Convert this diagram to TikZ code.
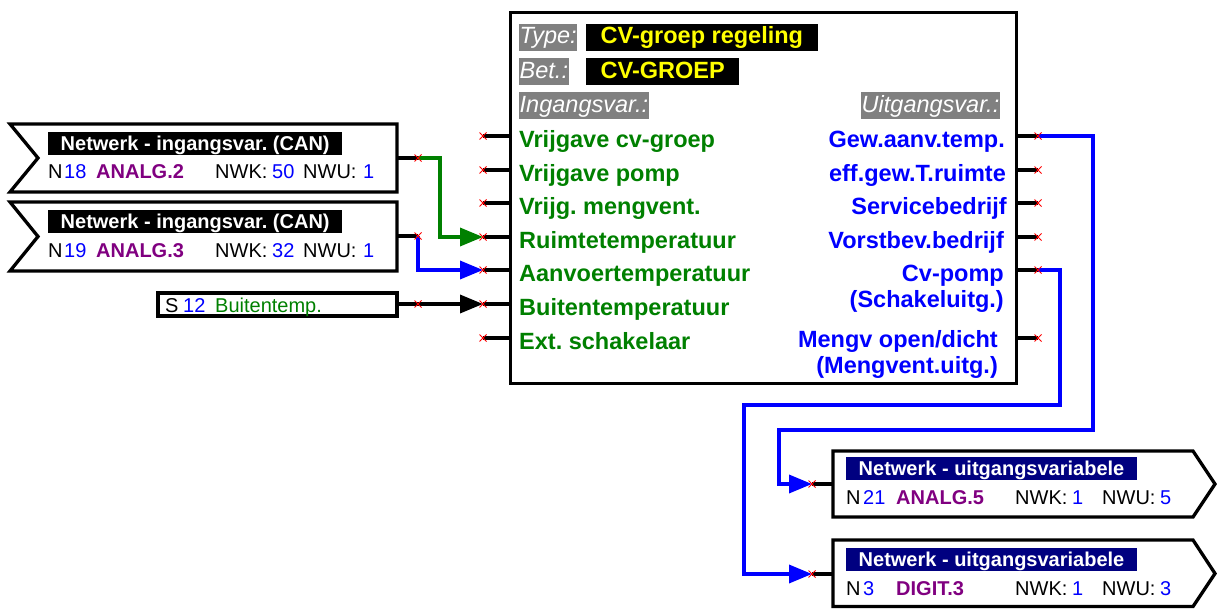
\documentclass[tikz,border=0pt]{standalone}
\usepackage{fontspec}
\setmainfont{Liberation Sans}
\usetikzlibrary{arrows.meta}
\definecolor{cgreen}{HTML}{008000}
\definecolor{cblue}{HTML}{0000FF}
\definecolor{cpurple}{HTML}{800080}
\definecolor{cnavy}{HTML}{000080}
\definecolor{cgray}{HTML}{808080}
\definecolor{cyellow}{HTML}{FFFF00}
\newcommand{\bigfont}{\fontsize{23.5}{28}\selectfont}
\newcommand{\smallfont}{\fontsize{20}{24}\selectfont}
\frenchspacing
\begin{document}
\begin{tikzpicture}[x=1pt,y=-1pt,
  frame/.style={draw=black, line width=3.3pt, line join=miter},
  stub/.style={draw=black, line width=3.5pt},
  wire/.style={line width=3.5pt, line join=miter, -{Triangle[length=23pt,width=18pt]}},
  hdr/.style={fill=cgray, text=white, font=\bigfont\itshape, inner xsep=0.5pt, inner ysep=0pt, text height=20pt, text depth=7pt},
  tag/.style={fill=black, text=cyellow, font=\bigfont\bfseries, inner xsep=14.5pt, inner ysep=0pt, text height=20pt, text depth=7pt, anchor=base west},
  ilbl/.style={text=cgreen, font=\bigfont\bfseries, inner sep=0pt, anchor=base west},
  olbl/.style={text=cblue, font=\bigfont\bfseries, inner sep=0pt, anchor=base east},
  bar/.style={text=white, font=\smallfont\bfseries, inner xsep=12.5pt, inner ysep=0pt, text height=18pt, text depth=5pt, anchor=base west},
  sm/.style={font=\smallfont, inner sep=0pt, anchor=base west},
  smb/.style={font=\smallfont\bfseries, text=cpurple, inner sep=0pt, anchor=base west},
  xmark/.pic={\draw[red, line width=0.9pt] (-3.5,-3.5) -- (3.5,3.5) (-3.5,3.5) -- (3.5,-3.5);}
]
\useasboundingbox (0,0) rectangle (1217,610);

% ---------- function block ----------
\node[frame, minimum width=506pt, minimum height=371pt, inner sep=0pt, anchor=north west] (blk) at (509,11) {};

\node[hdr, anchor=base west] (hType) at (519,44) {Type:};
\node[tag] (vType) at (586,44) {CV-groep regeling};
\node[hdr, anchor=base west] (hBet) at (519,78) {Bet.:};
\node[tag] (vBet) at (586,78) {CV-GROEP};
\node[hdr, anchor=base west] (hIn) at (519,112) {Ingangsvar.:};
\node[hdr, anchor=base east] (hOut) at (1000,112) {Uitgangsvar.:};

% input pins
\foreach \k/\y in {1/136,2/170,3/203,4/237,5/270,6/304,7/338}{
  \coordinate (in\k) at (483,\y);
  \draw[stub] (in\k) -- (in\k -| blk.west);
}
\node[ilbl] (l1) at (519,147) {Vrijgave cv-groep};
\node[ilbl] (l2) at (519,181) {Vrijgave pomp};
\node[ilbl] (l3) at (519,214) {Vrijg. mengvent.};
\node[ilbl] (l4) at (519,248) {Ruimtetemperatuur};
\node[ilbl] (l5) at (519,281) {Aanvoertemperatuur};
\node[ilbl] (l6) at (519,315) {Buitentemperatuur};
\node[ilbl] (l7) at (519,349) {Ext. schakelaar};

% output pins
\foreach \k/\y in {1/136,2/170,3/203,4/237,5/270,6/338}{
  \coordinate (out\k) at (1038,\y);
  \draw[stub] (out\k -| blk.east) -- (out\k);
}
\node[olbl] (r1) at (1005,147) {Gew.aanv.temp.};
\node[olbl] (r2) at (1006,181) {eff.gew.T.ruimte};
\node[olbl] (r3) at (1007,214) {Servicebedrijf};
\node[olbl] (r4) at (1004,248) {Vorstbev.bedrijf};
\node[olbl] (r5) at (1004,281) {Cv-pomp};
\node[olbl] (r5b) at (1004,307) {(Schakeluitg.)};
\node[olbl] (r6) at (998,347) {Mengv open/dicht};
\node[olbl] (r6b) at (998,373) {(Mengvent.uitg.)};

% ---------- network inputs ----------
\draw[frame] (10,124) -- (397,124) -- (397,192) -- (10,192) -- (38,158) -- cycle;
\coordinate (srcA) at (418,158);
\draw[stub] (397,158) -- (srcA);
\node[bar, fill=black] (tA) at (48,150) {Netwerk - ingangsvar. (CAN)};
\node[sm] (aN) at (48,178) {N};
\node[sm, text=cblue] (aNr) at (64,178) {18};
\node[smb] (aV) at (96,178) {ANALG.2};
\node[sm] (aK) at (215,178) {NWK:};
\node[sm, text=cblue] (aKv) at (272,178) {50};
\node[sm] (aU) at (303,178) {NWU:};
\node[sm, text=cblue] (aUv) at (363,178) {1};

\draw[frame] (10,202) -- (397,202) -- (397,271) -- (10,271) -- (38,236.5) -- cycle;
\coordinate (srcB) at (418,236);
\draw[stub] (397,236) -- (srcB);
\node[bar, fill=black] (tB) at (48,228) {Netwerk - ingangsvar. (CAN)};
\node[sm] (bN) at (48,257) {N};
\node[sm, text=cblue] (bNr) at (64,257) {19};
\node[smb] (bV) at (96,257) {ANALG.3};
\node[sm] (bK) at (215,257) {NWK:};
\node[sm, text=cblue] (bKv) at (272,257) {32};
\node[sm] (bU) at (303,257) {NWU:};
\node[sm, text=cblue] (bUv) at (363,257) {1};

% sensor input
\draw[frame] (158,293) rectangle (397,316);
\coordinate (srcS) at (418,304);
\draw[stub] (397,304) -- (srcS);
\node[sm] (sS) at (165,312) {S};
\node[sm, text=cblue] (sNr) at (183,312) {12};
\node[sm, text=cgreen] (sName) at (215,312) {Buitentemp.};

% ---------- network outputs ----------
\draw[frame] (833,451) -- (1193,451) -- (1215,484) -- (1193,517) -- (833,517) -- cycle;
\coordinate (dst1) at (812,484);
\draw[stub] (dst1) -- (833,484);
\node[bar, fill=cnavy] (t1) at (846,475) {Netwerk - uitgangsvariabele};
\node[sm] (cN) at (846,504) {N};
\node[sm, text=cblue] (cNr) at (863,504) {21};
\node[smb] (cV) at (896,504) {ANALG.5};
\node[sm] (cK) at (1015,504) {NWK:};
\node[sm, text=cblue] (cKv) at (1072,504) {1};
\node[sm] (cU) at (1102,504) {NWU:};
\node[sm, text=cblue] (cUv) at (1160,504) {5};

\draw[frame] (833,540) -- (1193,540) -- (1215,573.5) -- (1193,606.5) -- (833,606.5) -- cycle;
\coordinate (dst2) at (812,574);
\draw[stub] (dst2) -- (833,574);
\node[bar, fill=cnavy] (t2) at (846,566) {Netwerk - uitgangsvariabele};
\node[sm] (dN) at (846,595) {N};
\node[sm, text=cblue] (dNr) at (863,595) {3};
\node[smb] (dV) at (896,595) {DIGIT.3};
\node[sm] (dK) at (1015,595) {NWK:};
\node[sm, text=cblue] (dKv) at (1072,595) {1};
\node[sm] (dU) at (1102,595) {NWU:};
\node[sm, text=cblue] (dUv) at (1160,595) {3};

% ---------- connections ----------
\draw[wire, cgreen] (srcA) -- (440,158) -- (440,237) -- (in4);
\draw[wire, cblue] (srcB) -- (srcB |- in5) -- (in5);
\draw[wire, black] (srcS) -- (in6);
\draw[wire, cblue] (out1) -- (1093,136) -- (1093,430) -- (779,430) -- (779,484) -- (dst1);
\draw[wire, cblue] (out5) -- (1060,270) -- (1060,405) -- (744,405) -- (744,574) -- (dst2);

% pin markers
\foreach \p in {in1,in2,in3,in4,in5,in6,in7,out1,out2,out3,out4,out5,out6,srcA,srcB,srcS,dst1,dst2}
  \pic at (\p) {xmark};
\end{tikzpicture}
\end{document}
